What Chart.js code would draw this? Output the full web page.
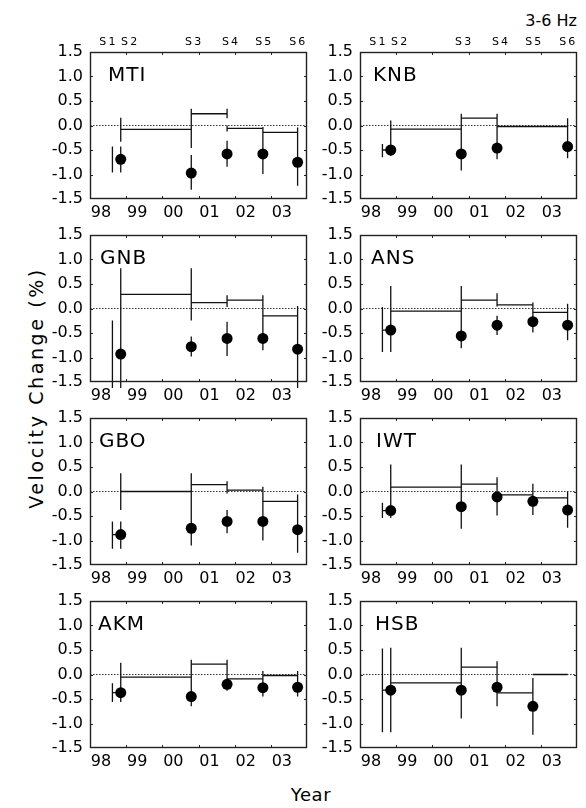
<!DOCTYPE html>
<html>
<head>
<meta charset="utf-8">
<script src="https://cdn.jsdelivr.net/npm/chart.js@4.4.1/dist/chart.umd.min.js"></script>
<style>
  body { margin: 0; background: #fff; }
  #page { position: relative; width: 586px; height: 808px; font-family: "DejaVu Sans", sans-serif; color: #000; overflow: hidden; }
  .panel { position: absolute; }
  .txt { position: absolute; white-space: nowrap; }
</style>
</head>
<body>
<div id="page">
  <div class="txt" style="right:9px; top:13px; font-size:16px; line-height:16px;">3-6 Hz</div>
  <div class="txt" style="left:36px; top:388px; font-size:19px; line-height:19px; letter-spacing:2.6px; transform:translate(-50%,-50%) rotate(-90deg);">Velocity Change (%)</div>
  <div class="txt" style="left:311px; top:786px; font-size:18px; line-height:18px; letter-spacing:0.6px; transform:translateX(-50%);">Year</div>
</div>
<script>
const stations = ['MTI', 'KNB', 'GNB', 'ANS', 'GBO', 'IWT', 'AKM', 'HSB'];
const surveyNames = ['S1', 'S2', 'S3', 'S4', 'S5', 'S6'];
const surveyTimes = [1998.62, 1998.85, 2000.80, 2001.79, 2002.78, 2003.74];
const surveyLabelAt = [1998.48, 1999.08, 2000.85, 2001.87, 2002.79, 2003.73];
const yearTicks = [1998, 1999, 2000, 2001, 2002, 2003, 2004];
const yearLabels = ['98', '99', '00', '01', '02', '03'];
const yTicks = [-1.5, -1.0, -0.5, 0.0, 0.5, 1.0, 1.5];

// velocity change (%) at each survey S1..S6
const dotValues = [
  [null, -0.69, -0.97, -0.58, -0.58, -0.75],
  [null, -0.50, -0.58, -0.46, null, -0.43],
  [null, -0.93, -0.78, -0.61, -0.61, -0.83],
  [null, -0.44, -0.56, -0.34, -0.27, -0.34],
  [null, -0.88, -0.75, -0.61, -0.61, -0.78],
  [null, -0.39, -0.31, -0.11, -0.20, -0.38],
  [null, -0.37, -0.45, -0.20, -0.27, -0.26],
  [null, -0.32, -0.32, -0.26, -0.65, null]
];

// change between consecutive surveys: S1-S2, S2-S3, S3-S4, S4-S5, S5-S6
const stepLevels = [
  [null, -0.08, 0.24, -0.06, -0.14],
  [-0.50, -0.075, 0.15, -0.02, -0.02],
  [null, 0.29, 0.12, 0.17, -0.15],
  [-0.44, -0.055, 0.17, 0.075, -0.08],
  [-0.88, 0.00, 0.14, 0.03, -0.20],
  [-0.39, 0.09, 0.15, -0.07, -0.13],
  [-0.37, -0.055, 0.21, -0.09, -0.02],
  [-0.32, -0.17, 0.15, -0.375, 0.00]
];

// error bars: [survey index, top, bottom]
const errorBars = [
  [[0, -0.43, -0.96], [1, 0.16, -0.33], [1, -0.43, -0.96], [2, 0.34, -0.46], [2, -0.60, -1.31],
   [3, 0.34, 0.15], [3, 0.00, -0.12], [3, -0.31, -0.84], [4, -0.03, -0.99], [5, -0.04, -1.23]],
  [[0, -0.38, -0.65], [1, 0.10, -0.62], [2, 0.24, -0.92], [3, 0.24, -0.69], [5, 0.15, -0.67]],
  [[0, -0.245, -1.62], [1, 0.82, -1.62], [2, 0.82, -0.245], [2, -0.57, -0.98], [3, 0.27, 0.03],
   [3, -0.27, -0.97], [4, 0.27, -0.85], [5, 0.05, -1.62]],
  [[0, 0.03, -0.89], [1, 0.46, -0.89], [2, 0.46, -0.81], [3, 0.31, 0.04], [3, -0.15, -0.54],
   [4, 0.12, -0.49], [5, 0.095, -0.65]],
  [[0, -0.61, -1.17], [1, 0.37, -0.38], [1, -0.61, -1.17], [2, 0.37, -1.10], [3, 0.21, -0.04],
   [3, -0.38, -0.85], [4, 0.095, -1.00], [5, -0.06, -1.25]],
  [[0, -0.23, -0.54], [1, 0.55, -0.54], [2, 0.55, -0.76], [3, 0.29, -0.49], [4, 0.16, -0.48],
   [5, 0.00, -0.74]],
  [[0, -0.18, -0.56], [1, 0.24, -0.56], [2, 0.30, -0.65], [3, 0.30, -0.33], [4, 0.07, -0.45],
   [5, 0.07, -0.45]],
  [[0, 0.53, -1.18], [1, 0.545, -1.18], [2, 0.545, -0.90], [3, 0.27, -0.65], [4, -0.07, -1.23]]
];

// panel geometry
const colLeft = [90, 360];
const rowTop = [52, 235, 418, 601];
const plotW = 217, plotH = 147;
const padL = 60, padT = 22, padR = 8, padB = 34;
const nameInset = [18, 13, 10, 11, 9, 16, 8, 15];

const tickFont = { family: 'DejaVu Sans', size: 16 };

// box around each panel, inward ticks and the station name
const panelFrame = {
  id: 'panelFrame',
  afterDraw(chart, args, opts) {
    const { ctx, chartArea: a, scales } = chart;
    ctx.save();
    ctx.strokeStyle = '#222';
    ctx.lineWidth = 1.4;
    ctx.strokeRect(a.left + 0.5, a.top + 0.5, a.right - a.left - 1, a.bottom - a.top - 1);
    ctx.lineWidth = 1;
    ctx.beginPath();
    yearTicks.slice(1, -1).forEach(v => {
      const px = Math.round(scales.x.getPixelForValue(v)) + 0.5;
      ctx.moveTo(px, a.top); ctx.lineTo(px, a.top + 3);
      ctx.moveTo(px, a.bottom); ctx.lineTo(px, a.bottom - 3);
    });
    yTicks.slice(1, -1).forEach(v => {
      const py = Math.round(scales.y.getPixelForValue(v)) + 0.5;
      ctx.moveTo(a.left, py); ctx.lineTo(a.left + 3, py);
      ctx.moveTo(a.right, py); ctx.lineTo(a.right - 3, py);
    });
    ctx.stroke();
    ctx.font = '20px "DejaVu Sans"';
    ctx.letterSpacing = '1px';
    ctx.fillStyle = '#000';
    ctx.textBaseline = 'alphabetic';
    ctx.fillText(opts.name, a.left + opts.inset, a.top + 29);
    ctx.restore();
  }
};

const page = document.getElementById('page');

stations.forEach((name, i) => {
  const row = Math.floor(i / 2), col = i % 2;
  const canvas = document.createElement('canvas');
  canvas.className = 'panel';
  canvas.width = padL + plotW + padR;
  canvas.height = padT + plotH + padB;
  canvas.style.left = (colLeft[col] - padL) + 'px';
  canvas.style.top = (rowTop[row] - padT) + 'px';
  page.appendChild(canvas);

  const stepPts = [];
  stepLevels[i].forEach((lvl, k) => {
    if (lvl === null) return;
    stepPts.push({ x: surveyTimes[k], y: lvl }, { x: surveyTimes[k + 1], y: lvl }, { x: surveyTimes[k + 1], y: null });
  });
  const barPts = [];
  errorBars[i].forEach(([k, hi, lo]) => {
    barPts.push({ x: surveyTimes[k], y: hi }, { x: surveyTimes[k], y: lo }, { x: surveyTimes[k], y: null });
  });
  const dots = dotValues[i]
    .map((v, k) => ({ x: surveyTimes[k], y: v }))
    .filter(p => p.y !== null);

  new Chart(canvas, {
    type: 'line',
    data: {
      datasets: [
        { data: [{ x: 1998, y: 0 }, { x: 2004, y: 0 }], borderColor: '#333', borderWidth: 1,
          borderDash: [1.5, 1.5], pointRadius: 0, order: 4 },
        { data: stepPts, borderColor: '#111', borderWidth: 1.3, pointRadius: 0, spanGaps: false, order: 3 },
        { data: barPts, borderColor: '#111', borderWidth: 1.3, pointRadius: 0, spanGaps: false,
          clip: false, order: 2 },
        { data: dots, showLine: false, pointRadius: 5.5, pointBackgroundColor: '#000',
          pointBorderWidth: 0, order: 1 }
      ]
    },
    options: {
      responsive: false,
      animation: false,
      events: [],
      layout: { padding: { left: 0, right: padR, top: 0, bottom: 0 }, autoPadding: false },
      plugins: {
        legend: { display: false },
        tooltip: { enabled: false },
        panelFrame: { name: name, inset: nameInset[i] }
      },
      scales: {
        x: {
          type: 'linear', position: 'bottom', min: 1998, max: 2004,
          afterBuildTicks: s => { s.ticks = yearTicks.map(value => ({ value })); },
          afterFit: s => { s.height = padB; },
          grid: { display: false, drawTicks: false },
          border: { display: false },
          ticks: {
            callback: (v, idx) => yearLabels[idx] ?? '',
            labelOffset: 11, padding: 4, maxRotation: 0, autoSkip: false,
            color: '#000', font: tickFont
          }
        },
        x2: {
          type: 'linear', position: 'top', min: 1998, max: 2004,
          afterBuildTicks: s => { s.ticks = surveyLabelAt.map(value => ({ value })); },
          afterFit: s => { s.height = padT; },
          grid: { display: false, drawTicks: false },
          border: { display: false },
          ticks: {
            callback: (v, idx) => row === 0 ? surveyNames[idx].split('').join('\u2009') : '',
            padding: 3, maxRotation: 0, autoSkip: false,
            color: '#000', font: { family: 'DejaVu Sans', size: 11 }
          }
        },
        y: {
          min: -1.5, max: 1.5,
          afterBuildTicks: s => { s.ticks = yTicks.map(value => ({ value })); },
          afterFit: s => { s.width = padL; },
          grid: { display: false, drawTicks: false },
          border: { display: false },
          ticks: { callback: v => v.toFixed(1), padding: 7, color: '#000', font: tickFont }
        }
      }
    },
    plugins: [panelFrame]
  });
});
</script>
</body>
</html>
